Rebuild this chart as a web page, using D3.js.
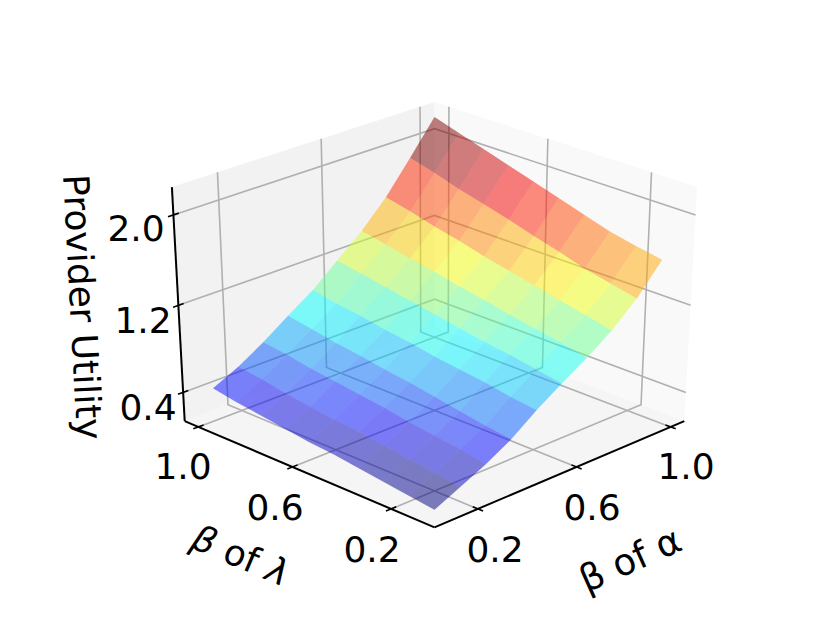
<!DOCTYPE html>
<html><head><meta charset="utf-8">
<style>html,body{margin:0;padding:0;background:#fff}svg{display:block}text{font-family:"DejaVu Sans";fill:#000}</style>
<script src="https://cdnjs.cloudflare.com/ajax/libs/d3/7.8.5/d3.min.js"></script></head>
<body><svg id="c" width="830" height="623"></svg>
<script>
const alphaGrid=[0.05,0.15,0.25,0.35,0.45,0.55,0.65,0.75,0.85,0.95];
const lambdaGrid=[0.05,0.15,0.25,0.35,0.45,0.55,0.65,0.75,0.85,0.95];
const row0=[.25,.28,.31,.34,.37,.39,.42,.45,.48,.52];
const row1=[.36,.39,.42,.45,.48,.50,.53,.56,.60,.63];
const row2=[.47,.51,.54,.57,.61,.64,.67,.70,.74,.77];
const row3=[.60,.63,.67,.71,.75,.78,.82,.85,.89,.93];
const row4=[.77,.80,.84,.87,.90,.94,.97,1.01,1.04,1.08];
const row5=[.92,.96,1.00,1.03,1.07,1.11,1.15,1.19,1.23,1.27];
const row6=[1.06,1.11,1.15,1.19,1.24,1.28,1.33,1.37,1.42,1.46];
const row7=[1.22,1.27,1.32,1.37,1.42,1.47,1.53,1.58,1.64,1.69];
const row8=[1.42,1.47,1.52,1.59,1.65,1.72,1.78,1.84,1.91,1.97];
const row9=[1.68,1.72,1.77,1.84,1.91,1.98,2.05,2.12,2.19,2.26];
const utility=[row0,row1,row2,row3,row4,row5,row6,row7,row8,row9];
const xTicks=[0.2,0.6,1.0], yTicks=[0.2,0.6,1.0], zTicks=[0.4,1.2,2.0];
const xLim=[0.03,1.06], yLim=[0.03,1.06], zLim=[0.13,2.24];
const elev=30*Math.PI/180, azim=225*Math.PI/180, dist=10;
const box=[1,1,1];
const X=d3.scaleLinear().domain(xLim).range([0,box[0]]);
const Y=d3.scaleLinear().domain(yLim).range([0,box[1]]);
const Z=d3.scaleLinear().domain(zLim).range([0,box[2]]);
const dir=[Math.cos(elev)*Math.cos(azim),Math.cos(elev)*Math.sin(azim),Math.sin(elev)];
const right=[-Math.sin(azim),Math.cos(azim),0];
const up=[-Math.sin(elev)*Math.cos(azim),-Math.sin(elev)*Math.sin(azim),Math.cos(elev)];
const pxX=d3.scaleLinear().domain([-0.0707,0.0707]).range([178.5,690.5]);
const pxY=d3.scaleLinear().domain([-0.05,0.05]).range([442,172]);
function view(x,y,z){const p=[X(x)-box[0]/2,Y(y)-box[1]/2,Z(z)-box[2]/2];
 const u=d3.sum(p,(d,i)=>d*right[i]),v=d3.sum(p,(d,i)=>d*up[i]),w=d3.sum(p,(d,i)=>d*dir[i]);
 return {u:u/(dist-w),v:v/(dist-w),w};}
function P(x,y,z){const q=view(x,y,z);return [pxX(q.u),pxY(q.v)];}
const svg=d3.select("#c");
const line=d3.line();
const [x0,x1]=xLim,[y0,y1]=yLim,[z0,z1]=zLim;
function poly(pts,fill){svg.append("path").attr("d",line(pts.map(p=>P(...p)))+"Z").attr("fill",fill).attr("stroke","none");}
poly([[x1,y0,z0],[x1,y1,z0],[x1,y1,z1],[x1,y0,z1]],"#f9f9f9");
poly([[x0,y1,z0],[x1,y1,z0],[x1,y1,z1],[x0,y1,z1]],"#f2f2f2");
poly([[x0,y0,z0],[x1,y0,z0],[x1,y1,z0],[x0,y1,z0]],"#f5f5f5");
function pl(pts,col,w){svg.append("path").attr("d",line(pts.map(p=>P(...p)))).attr("fill","none").attr("stroke",col).attr("stroke-width",w);}
const gridCol="#b0b0b0",gw=1.6;
xTicks.forEach(t=>pl([[t,y0,z0],[t,y1,z0],[t,y1,z1]],gridCol,gw));
yTicks.forEach(t=>pl([[x0,t,z0],[x1,t,z0],[x1,t,z1]],gridCol,gw));
zTicks.forEach(t=>pl([[x0,y1,t],[x1,y1,t],[x1,y0,t]],gridCol,gw));
const ax=2,tw=1.6,dx=0.02;
pl([[x0,y0,z0],[x1,y0,z0]],"#000",ax);
pl([[x0,y0,z0],[x0,y1,z0]],"#000",ax);
pl([[x0,y1,z0],[x0,y1,z1]],"#000",ax);
xTicks.forEach(t=>pl([[t,y0-dx,z0],[t,y0+dx,z0]],"#000",tw));
yTicks.forEach(t=>pl([[x0-dx,t,z0],[x0+dx,t,z0]],"#000",tw));
zTicks.forEach(t=>pl([[x0-dx,y1,t],[x0+dx,y1,t]],"#000",tw));
function jet(t){const c=v=>Math.max(0,Math.min(1,v));
 const r=c(1.5-Math.abs(4*t-3)),g=c(1.5-Math.abs(4*t-2)),b=c(1.5-Math.abs(4*t-1));
 return d3.rgb(r*255,g*255,b*255);}
const cells=[];
for(let i=0;i<alphaGrid.length-1;i++)for(let j=0;j<lambdaGrid.length-1;j++){
 const pts=[[alphaGrid[i],lambdaGrid[j],utility[i][j]],[alphaGrid[i+1],lambdaGrid[j],utility[i+1][j]],[alphaGrid[i+1],lambdaGrid[j+1],utility[i+1][j+1]],[alphaGrid[i],lambdaGrid[j+1],utility[i][j+1]]];
 const zm=d3.mean(pts,p=>p[2]);
 const depth=d3.mean(pts,p=>view(...p).w);
 cells.push({pts,zm,depth});}
const norm=d3.scaleLinear().domain(d3.extent(cells,c=>c.zm)).range([0,1]);
cells.sort((a,b)=>a.depth-b.depth);
cells.forEach(c=>{const col=jet(norm(c.zm));
 svg.append("path").attr("d",line(c.pts.map(p=>P(...p)))+"Z").attr("fill",col).attr("fill-opacity",0.5).attr("stroke",col).attr("stroke-opacity",0.06).attr("stroke-width",0.6);});
function txt(t,xy,dy,rot,fs){const g=svg.append("text").attr("transform",`translate(${xy[0]},${xy[1]}) rotate(${rot||0})`).attr("text-anchor","middle").attr("dy",dy||"0.36em").attr("font-size",fs||36);
 if(Array.isArray(t))t.forEach(s=>g.append("tspan").attr("font-style",s[1]?"italic":"normal").text(s[0]));else g.text(t);return g;}
const xPos=[[495,549],[592,507],[686,466]];
xTicks.forEach((t,i)=>txt(t.toFixed(1),xPos[i]));
const yPos=[[372,549],[275,507],[183,466]];
yTicks.forEach((t,i)=>txt(t.toFixed(1),yPos[i]));
const zPos=[[136,228],[143,320],[148,407]];
zTicks.forEach((t,i)=>txt(zTicks[2-i].toFixed(1),zPos[i]));
txt("Provider Utility",[83,307],"0.36em",87,36);
txt([["β",1],[" of "],["λ",1]],[241,555],"0.36em",23,36);
txt("β of α",[630,559],"0.36em",-24,37);
</script></body></html>
